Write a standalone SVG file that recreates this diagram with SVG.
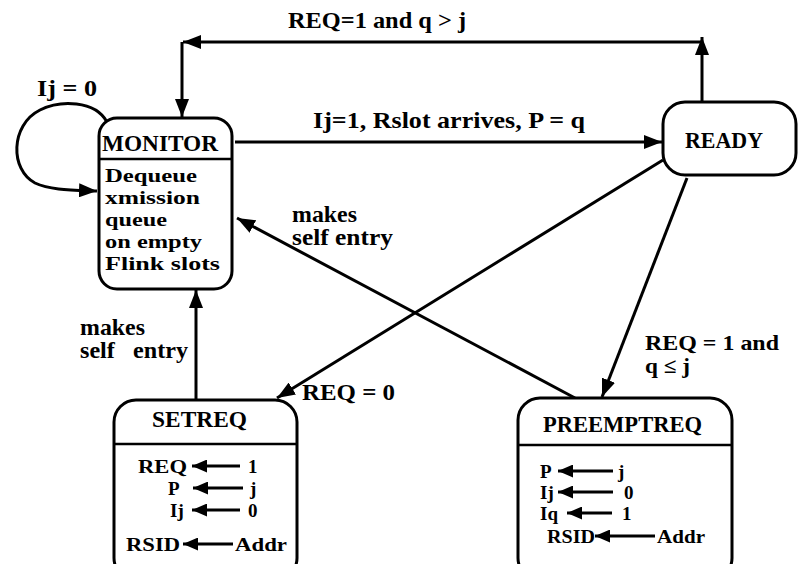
<svg xmlns="http://www.w3.org/2000/svg" width="798" height="564" viewBox="0 0 798 564">
<defs>
<style>
text{font-family:"Liberation Serif","Times New Roman",serif;font-weight:bold;font-size:23px;fill:#000}
.sm{font-size:19px}
.md{font-size:21px}
.box{fill:#fff;stroke:#000;stroke-width:3}
.sep{stroke:#000;stroke-width:2.5}
.conn{fill:none;stroke:#000;stroke-width:3}
.asg{stroke:#000;stroke-width:3}
</style>
<marker id="ah" viewBox="0 0 18 14" refX="18" refY="7" markerWidth="18" markerHeight="14" orient="auto" markerUnits="userSpaceOnUse"><path d="M0,0 L18,7 L0,14 z" fill="#000"/></marker>
<marker id="sa" viewBox="0 0 15 13" refX="15" refY="6.5" markerWidth="15" markerHeight="13" orient="auto" markerUnits="userSpaceOnUse"><path d="M0,0 L15,6.5 L0,13 z" fill="#000"/></marker>
</defs>
<rect width="798" height="564" fill="#fff"/>

<g id="connectors">
<line class="conn" x1="702" y1="102" x2="702" y2="37" marker-end="url(#ah)"/>
<line class="conn" x1="702" y1="42" x2="183" y2="42" marker-end="url(#ah)"/>
<line class="conn" x1="182" y1="42" x2="182" y2="117" marker-end="url(#ah)"/>
<line class="conn" x1="235" y1="142" x2="662" y2="142" marker-end="url(#ah)"/>
<path class="conn" d="M107,122 C95,100 60,100 40,110 C10,125 10,170 35,183 C50,190 70,190 97,191" marker-end="url(#ah)"/>
<line class="conn" x1="663" y1="160" x2="277" y2="398" marker-end="url(#ah)"/>
<line class="conn" x1="687" y1="178" x2="602" y2="397" marker-end="url(#ah)"/>
<line class="conn" x1="575" y1="398" x2="237" y2="218" marker-end="url(#ah)"/>
<line class="conn" x1="196" y1="400" x2="196" y2="290" marker-end="url(#ah)"/>
<text x="288" y="28" textLength="178" lengthAdjust="spacingAndGlyphs">REQ=1 and q &gt; j</text>
<text x="313" y="128" textLength="272" lengthAdjust="spacingAndGlyphs">Ij=1, Rslot arrives, P = q</text>
<text x="37" y="96" textLength="60" lengthAdjust="spacingAndGlyphs">Ij = 0</text>
<text x="292" y="222" textLength="65" lengthAdjust="spacingAndGlyphs">makes</text>
<text x="292" y="245" textLength="101" lengthAdjust="spacingAndGlyphs">self entry</text>
<text x="80" y="335" textLength="65" lengthAdjust="spacingAndGlyphs">makes</text>
<text x="80" y="358" textLength="108" lengthAdjust="spacingAndGlyphs" xml:space="preserve">self   entry</text>
<text x="302" y="400" textLength="93" lengthAdjust="spacingAndGlyphs">REQ = 0</text>
<text class="md" x="645" y="350" textLength="134" lengthAdjust="spacingAndGlyphs">REQ = 1 and</text>
<text class="md" x="645" y="373" textLength="45" lengthAdjust="spacingAndGlyphs">q ≤ j</text>
</g>

<g id="monitor">
<rect class="box" x="99" y="118" width="133" height="171" rx="18"/>
<line class="sep" x1="99" y1="159" x2="232" y2="159"/>
<text x="102" y="151" textLength="116" lengthAdjust="spacingAndGlyphs">MONITOR</text>
<text class="sm" x="105" y="182" textLength="92" lengthAdjust="spacingAndGlyphs">Dequeue</text>
<text class="sm" x="105" y="204" textLength="95" lengthAdjust="spacingAndGlyphs">xmission</text>
<text class="sm" x="105" y="226" textLength="62" lengthAdjust="spacingAndGlyphs">queue</text>
<text class="sm" x="105" y="248" textLength="97" lengthAdjust="spacingAndGlyphs">on empty</text>
<text class="sm" x="105" y="270" textLength="115" lengthAdjust="spacingAndGlyphs">Flink slots</text>
</g>

<g id="ready">
<rect class="box" x="663" y="102" width="133" height="73" rx="22"/>
<text x="685" y="148" textLength="78" lengthAdjust="spacingAndGlyphs">READY</text>
</g>

<g id="setreq">
<rect class="box" x="114" y="400" width="183" height="180" rx="22"/>
<line class="sep" x1="114" y1="444" x2="297" y2="444"/>
<text x="152" y="427" textLength="95" lengthAdjust="spacingAndGlyphs">SETREQ</text>
<text class="sm" x="138" y="473" textLength="49" lengthAdjust="spacingAndGlyphs">REQ</text>
<line class="asg" x1="240" y1="466" x2="192" y2="466" marker-end="url(#sa)"/>
<text class="sm" x="248" y="473">1</text>
<text class="sm" x="168" y="495">P</text>
<line class="asg" x1="243" y1="488" x2="193" y2="488" marker-end="url(#sa)"/>
<text class="sm" x="250" y="495">j</text>
<text class="sm" x="170" y="517">Ij</text>
<line class="asg" x1="240" y1="510" x2="192" y2="510" marker-end="url(#sa)"/>
<text class="sm" x="248" y="517">0</text>
<text class="sm" x="126" y="551" textLength="54" lengthAdjust="spacingAndGlyphs">RSID</text>
<line class="asg" x1="233" y1="544" x2="183" y2="544" marker-end="url(#sa)"/>
<text class="sm" x="235" y="551" textLength="52" lengthAdjust="spacingAndGlyphs">Addr</text>
</g>

<g id="preemptreq">
<rect class="box" x="518" y="398" width="214" height="182" rx="22"/>
<line class="sep" x1="518" y1="445" x2="732" y2="445"/>
<text x="543" y="432" textLength="159" lengthAdjust="spacingAndGlyphs">PREEMPTREQ</text>
<text class="sm" x="540" y="478">P</text>
<line class="asg" x1="613" y1="471" x2="558" y2="471" marker-end="url(#sa)"/>
<text class="sm" x="618" y="478">j</text>
<text class="sm" x="540" y="499">Ij</text>
<line class="asg" x1="613" y1="492" x2="558" y2="492" marker-end="url(#sa)"/>
<text class="sm" x="624" y="499">0</text>
<text class="sm" x="540" y="520">Iq</text>
<line class="asg" x1="612" y1="513" x2="567" y2="513" marker-end="url(#sa)"/>
<text class="sm" x="622" y="520">1</text>
<text class="sm" x="547" y="543" textLength="48" lengthAdjust="spacingAndGlyphs">RSID</text>
<line class="asg" x1="655" y1="536" x2="595" y2="536" marker-end="url(#sa)"/>
<text class="sm" x="657" y="543" textLength="48" lengthAdjust="spacingAndGlyphs">Addr</text>
</g>
</svg>
